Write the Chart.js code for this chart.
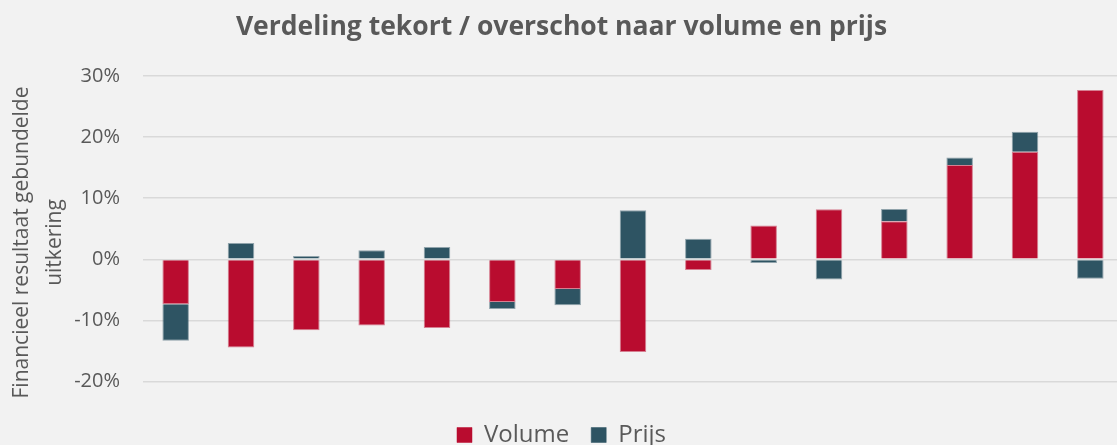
<!DOCTYPE html>
<html>
<head>
<meta charset="utf-8">
<script src="https://cdn.jsdelivr.net/npm/chart.js@4"></script>
<style>
  html, body { margin: 0; padding: 0; background: #f2f2f2; overflow: hidden; }
  #wrap { width: 1123px; height: 457px; }
</style>
</head>
<body>
<div id="wrap"><canvas id="c"></canvas></div>
<script>
const categories = ["1","2","3","4","5","6","7","8","9","10","11","12","13","14","15"];
const volume = [-7.35, -14.4, -11.6, -10.8, -11.2, -6.95, -4.85, -15.15, -1.75, 5.55, 8.2, 6.25, 15.45, 17.6, 27.7];
const prijs  = [-5.95, 2.7, 0.55, 1.5, 2.05, -1.15, -2.65, 8.05, 3.4, -0.6, -3.3, 2.0, 1.2, 3.3, -3.15];
const yTicks = [-20, -10, 0, 10, 20, 30];
const seriesNames = ["Volume", "Prijs"];
const chartTitle = "Verdeling tekort / overschot naar volume en prijs";
const yTitle = ["Financieel resultaat gebundelde     ", "uitkering     "];

const grey = '#595959';
new Chart(document.getElementById('c'), {
  type: 'bar',
  data: {
    labels: categories,
    datasets: [
      { label: seriesNames[0], data: volume, backgroundColor: '#b90c2f', borderColor: 'rgba(185,12,47,0.5)', borderWidth: 1, barPercentage: 0.406, categoryPercentage: 1 },
      { label: seriesNames[1], data: prijs, backgroundColor: '#2e5463', borderColor: 'rgba(46,84,99,0.5)', borderWidth: 1, barPercentage: 0.406, categoryPercentage: 1 }
    ]
  },
  options: {
    responsive: true,
    maintainAspectRatio: false,
    animation: false,
    layout: { padding: 0 },
    plugins: {
      title: { display: true, text: chartTitle, color: grey, font: { family: 'Open Sans', size: 26.5, weight: 'bold', lineHeight: 1.2 }, padding: { top: 12, bottom: 32.2 } },
      legend: {
        position: 'bottom',
        labels: { color: grey, font: { family: 'Open Sans', size: 24 }, boxWidth: 15, boxHeight: 15, padding: 22 }
      },
      tooltip: { enabled: false }
    },
    scales: {
      x: {
        stacked: true,
        display: true,
        grid: { display: false, drawTicks: false },
        border: { display: false },
        ticks: { display: false },
        afterFit: (s) => { s.height = 19.3; }
      },
      y: {
        stacked: true,
        min: -20, max: 30,
        afterBuildTicks: (s) => { s.ticks = yTicks.map(v => ({ value: v })); },
        afterFit: (s) => { s.width = 143; },
        border: { display: false },
        grid: { color: '#d9d9d9', lineWidth: 1.6, drawTicks: false },
        ticks: { color: grey, font: { family: 'Open Sans', size: 20 }, padding: 23, callback: v => v + '%' },
        title: { display: true, text: yTitle, color: grey, font: { family: 'Open Sans', size: 21, lineHeight: 1.585 }, padding: { top: 5, bottom: 0 } }
      }
    }
  }
});
</script>
</body>
</html>
